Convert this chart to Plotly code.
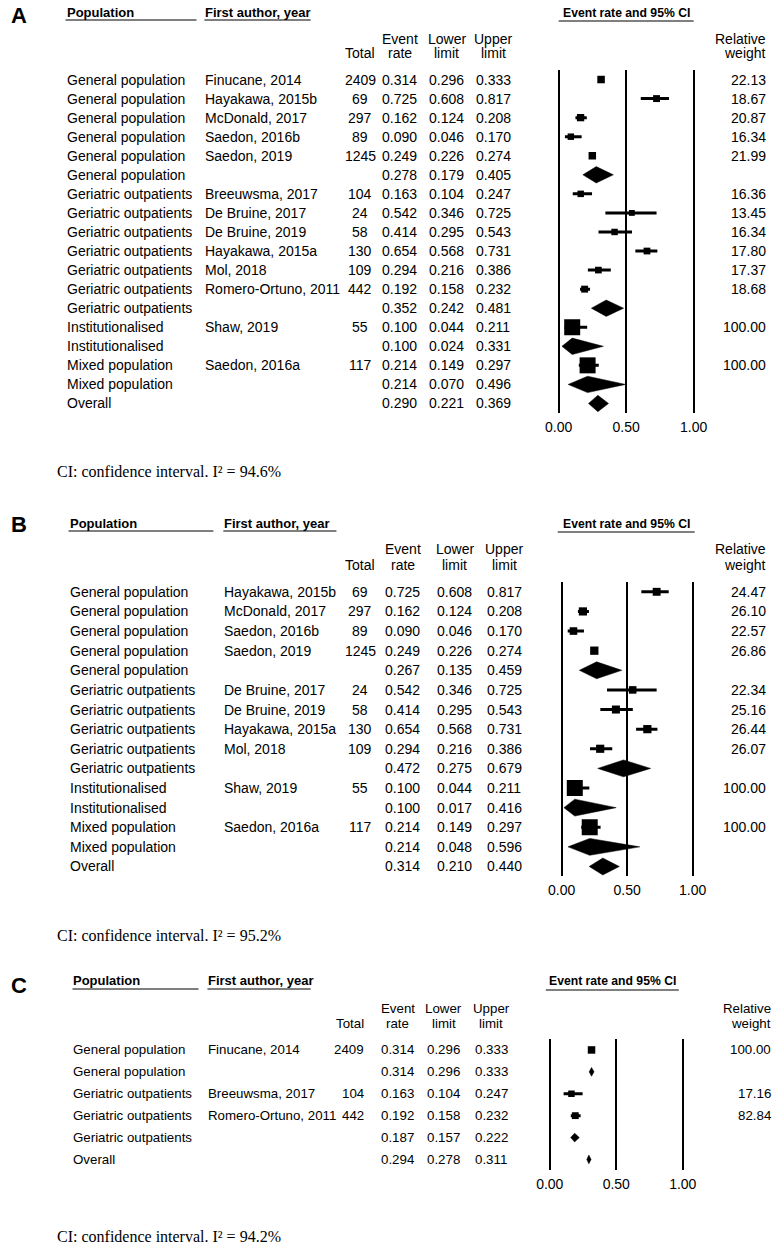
import plotly.graph_objects as go

W, H = 779, 1250
SANS = "Liberation Sans, Arial, sans-serif"
SERIF = "Liberation Serif, Times New Roman, serif"

# ---------------- Panel A data ----------------
a_population = ["General population", "General population", "General population", "General population",
                "General population", "General population",
                "Geriatric outpatients", "Geriatric outpatients", "Geriatric outpatients", "Geriatric outpatients",
                "Geriatric outpatients", "Geriatric outpatients", "Geriatric outpatients",
                "Institutionalised", "Institutionalised", "Mixed population", "Mixed population", "Overall"]
a_author = ["Finucane, 2014", "Hayakawa, 2015b", "McDonald, 2017", "Saedon, 2016b", "Saedon, 2019", "",
            "Breeuwsma, 2017", "De Bruine, 2017", "De Bruine, 2019", "Hayakawa, 2015a", "Mol, 2018",
            "Romero-Ortuno, 2011", "", "Shaw, 2019", "", "Saedon, 2016a", "", ""]
a_total = [2409, 69, 297, 89, 1245, None, 104, 24, 58, 130, 109, 442, None, 55, None, 117, None, None]
a_rate = [0.314, 0.725, 0.162, 0.090, 0.249, 0.278, 0.163, 0.542, 0.414, 0.654, 0.294, 0.192, 0.352,
          0.100, 0.100, 0.214, 0.214, 0.290]
a_lower = [0.296, 0.608, 0.124, 0.046, 0.226, 0.179, 0.104, 0.346, 0.295, 0.568, 0.216, 0.158, 0.242,
           0.044, 0.024, 0.149, 0.070, 0.221]
a_upper = [0.333, 0.817, 0.208, 0.170, 0.274, 0.405, 0.247, 0.725, 0.543, 0.731, 0.386, 0.232, 0.481,
           0.211, 0.331, 0.297, 0.496, 0.369]
a_weight = [22.13, 18.67, 20.87, 16.34, 21.99, None, 16.36, 13.45, 16.34, 17.80, 17.37, 18.68, None,
            100.00, None, 100.00, None, None]
a_i2 = "94.6%"

# ---------------- Panel B data ----------------
b_population = ["General population", "General population", "General population", "General population",
                "General population",
                "Geriatric outpatients", "Geriatric outpatients", "Geriatric outpatients", "Geriatric outpatients",
                "Geriatric outpatients",
                "Institutionalised", "Institutionalised", "Mixed population", "Mixed population", "Overall"]
b_author = ["Hayakawa, 2015b", "McDonald, 2017", "Saedon, 2016b", "Saedon, 2019", "",
            "De Bruine, 2017", "De Bruine, 2019", "Hayakawa, 2015a", "Mol, 2018", "",
            "Shaw, 2019", "", "Saedon, 2016a", "", ""]
b_total = [69, 297, 89, 1245, None, 24, 58, 130, 109, None, 55, None, 117, None, None]
b_rate = [0.725, 0.162, 0.090, 0.249, 0.267, 0.542, 0.414, 0.654, 0.294, 0.472, 0.100, 0.100, 0.214, 0.214, 0.314]
b_lower = [0.608, 0.124, 0.046, 0.226, 0.135, 0.346, 0.295, 0.568, 0.216, 0.275, 0.044, 0.017, 0.149, 0.048, 0.210]
b_upper = [0.817, 0.208, 0.170, 0.274, 0.459, 0.725, 0.543, 0.731, 0.386, 0.679, 0.211, 0.416, 0.297, 0.596, 0.440]
b_weight = [24.47, 26.10, 22.57, 26.86, None, 22.34, 25.16, 26.44, 26.07, None, 100.00, None, 100.00, None, None]
b_i2 = "95.2%"

# ---------------- Panel C data ----------------
c_population = ["General population", "General population", "Geriatric outpatients", "Geriatric outpatients",
                "Geriatric outpatients", "Overall"]
c_author = ["Finucane, 2014", "", "Breeuwsma, 2017", "Romero-Ortuno, 2011", "", ""]
c_total = [2409, None, 104, 442, None, None]
c_rate = [0.314, 0.314, 0.163, 0.192, 0.187, 0.294]
c_lower = [0.296, 0.296, 0.104, 0.158, 0.157, 0.278]
c_upper = [0.333, 0.333, 0.247, 0.232, 0.222, 0.311]
c_weight = [100.00, None, 17.16, 82.84, None, None]
c_i2 = "94.2%"

tick_vals = [0, 0.5, 1.0]
tick_text = ["0.00", "0.50", "1.00"]

# ---------------- layout settings per panel (pixel positions) ----------------
panels = [
    dict(label="A", pop=a_population, author=a_author, total=a_total, rate=a_rate, lower=a_lower,
         upper=a_upper, weight=a_weight, i2=a_i2,
         label_y=15, head_y=12, uline_y=20, h1_y=38.5, h2_y=53,
         row_top=70, row_bot=413, zero_px=557, one_px=693,
         pop_x=60, pop_end=192, auth_x=200, auth_end=307,
         total_x=357, total_anchor="center", rate_x=397, lower_x=444, upper_x=491, weight_x=767,
         ci_head_x0=557, ci_head_x1=693, foot_y=472, sq_k=1.6, sq_min=0, dia_h=0.43, ci_w=3, fs=14),
    dict(label="B", pop=b_population, author=b_author, total=b_total, rate=b_rate, lower=b_lower,
         upper=b_upper, weight=b_weight, i2=b_i2,
         label_y=525, head_y=523, uline_y=531, h1_y=549, h2_y=565,
         row_top=582, row_bot=876.3, zero_px=560, one_px=692,
         pop_x=63, pop_end=209, auth_x=219, auth_end=333,
         total_x=357, total_anchor="center", rate_x=400, lower_x=452, upper_x=502, weight_x=767,
         ci_head_x0=556, ci_head_x1=694, foot_y=935, sq_k=1.6, sq_min=0, dia_h=0.43, ci_w=3, fs=14),
    dict(label="C", pop=c_population, author=c_author, total=c_total, rate=c_rate, lower=c_lower,
         upper=c_upper, weight=c_weight, i2=c_i2,
         label_y=985, head_y=980, uline_y=989, h1_y=1008, h2_y=1023,
         row_top=1039, row_bot=1170.4, zero_px=548, one_px=682,
         pop_x=67, pop_end=194, auth_x=203, auth_end=307,
         total_x=362, total_anchor="right", rate_x=395, lower_x=441, upper_x=489, weight_x=772,
         ci_head_x0=544, ci_head_x1=678, foot_y=1236, sq_k=0.75, sq_min=6.5, dia_h=0.2, ci_w=3, fs=13.3),
]


def px(x):
    return x / W


def py(y):
    return 1 - y / H


fig = go.Figure()
annotations = []
shapes = []
layout_axes = {}

for p, P in enumerate(panels, start=1):
    sfx = "" if p == 1 else str(p)
    xref, yref = "x" + sfx, "y" + sfx
    n = len(P["rate"])
    scale = P["one_px"] - P["zero_px"]
    dom_x0, dom_x1 = 540, 712
    layout_axes["xaxis" + sfx] = dict(
        domain=[px(dom_x0), px(dom_x1)],
        range=[(dom_x0 - P["zero_px"]) / scale, (dom_x1 - P["zero_px"]) / scale],
        anchor=yref, tickvals=tick_vals, ticktext=tick_text, showgrid=True, gridcolor="black",
        gridwidth=2, zeroline=False, showline=False, ticks="", ticklen=0, ticklabelstandoff=4,
        tickfont=dict(family=SANS, size=14, color="black"), fixedrange=True)
    layout_axes["yaxis" + sfx] = dict(
        domain=[py(P["row_bot"]), py(P["row_top"])], range=[n - 0.5, -0.5], anchor=xref,
        showgrid=False, zeroline=False, showline=False, showticklabels=False, ticks="", fixedrange=True)

    # whiskers and squares for individual studies
    wx, wy, sx, sy, ss = [], [], [], [], []
    for i in range(n):
        if P["author"][i]:
            wx += [P["lower"][i], P["upper"][i], None]
            wy += [i, i, None]
            sx.append(P["rate"][i])
            sy.append(i)
            ss.append(max(P["sq_min"], P["sq_k"] * P["weight"][i] ** 0.5))
    fig.add_trace(go.Scatter(x=wx, y=wy, mode="lines", line=dict(color="black", width=P["ci_w"]),
                             xaxis=xref, yaxis=yref, hoverinfo="skip", showlegend=False, cliponaxis=False))
    fig.add_trace(go.Scatter(x=sx, y=sy, mode="markers",
                             marker=dict(symbol="square", size=ss, color="black", opacity=1,
                                         line=dict(width=0)),
                             xaxis=xref, yaxis=yref, showlegend=False, cliponaxis=False))
    # diamonds for pooled estimates
    for i in range(n):
        if not P["author"][i]:
            h = P["dia_h"]
            fig.add_trace(go.Scatter(
                x=[P["lower"][i], P["rate"][i], P["upper"][i], P["rate"][i], P["lower"][i]],
                y=[i, i - h, i, i + h, i], mode="lines", fill="toself", fillcolor="black",
                line=dict(color="black", width=0.5), xaxis=xref, yaxis=yref,
                showlegend=False, hoverinfo="skip", cliponaxis=False))

    # ---- table text per row ----
    def row_text(x, i, text, anchor, fs=P["fs"]):
        annotations.append(dict(x=px(x), y=i, xref="paper", yref=yref, text=text, showarrow=False,
                                xanchor=anchor, yanchor="middle", borderpad=0,
                                font=dict(family=SANS, size=fs, color="black")))

    for i in range(n):
        row_text(P["pop_x"], i, P["pop"][i], "left")
        if P["author"][i]:
            row_text(P["auth_x"], i, P["author"][i], "left")
        if P["total"][i] is not None:
            row_text(P["total_x"], i, str(P["total"][i]), P["total_anchor"])
        row_text(P["rate_x"], i, f"{P['rate'][i]:.3f}", "center")
        row_text(P["lower_x"], i, f"{P['lower'][i]:.3f}", "center")
        row_text(P["upper_x"], i, f"{P['upper'][i]:.3f}", "center")
        if P["weight"][i] is not None:
            row_text(P["weight_x"], i, f"{P['weight'][i]:.2f}", "right")

    # ---- headers ----
    def head(x, y, text, anchor="center", size=P["fs"], bold=False, family=SANS):
        annotations.append(dict(x=px(x), y=py(y), xref="paper", yref="paper",
                                text=f"<b>{text}</b>" if bold else text, showarrow=False,
                                xanchor=anchor, yanchor="middle", borderpad=0,
                                font=dict(family=family, size=size, color="black")))

    head(4, P["label_y"], P["label"], "left", size=22, bold=True)
    head(P["pop_x"], P["head_y"], "Population", "left", size=13, bold=True)
    head(P["auth_x"], P["head_y"], "First author, year", "left", size=13, bold=True)
    head((P["ci_head_x0"] + P["ci_head_x1"]) / 2, P["head_y"] + 1, "Event rate and 95% CI", "center",
         size=12.2, bold=True)
    head(P["total_x"], P["h2_y"], "Total", P["total_anchor"])
    head(P["rate_x"], P["h1_y"], "Event")
    head(P["rate_x"], P["h2_y"], "rate")
    head(P["lower_x"], P["h1_y"], "Lower")
    head(P["lower_x"], P["h2_y"], "limit")
    head(P["upper_x"], P["h1_y"], "Upper")
    head(P["upper_x"], P["h2_y"], "limit")
    head(P["weight_x"], P["h1_y"], "Relative", "right")
    head(P["weight_x"], P["h2_y"], "weight", "right")
    for x0, x1, yy in [(P["pop_x"], P["pop_end"], P["uline_y"]),
                       (P["auth_x"], P["auth_end"], P["uline_y"]),
                       (P["ci_head_x0"], P["ci_head_x1"], P["uline_y"] + 1)]:
        shapes.append(dict(type="line", xref="paper", yref="paper", x0=px(x0), x1=px(x1),
                           y0=py(yy), y1=py(yy), line=dict(color="#555555", width=1.5)))
    # footnote
    head(50, P["foot_y"], f"CI: confidence interval. I² = {P['i2']}", "left", size=16, family=SERIF)

fig.update_layout(
    width=W, height=H, autosize=False, margin=dict(l=0, r=0, t=0, b=0),
    paper_bgcolor="white", plot_bgcolor="white", showlegend=False,
    annotations=annotations, shapes=shapes, **layout_axes)

fig.write_html("out.html", config={"displayModeBar": False},
               post_script="document.body.style.margin='0';")
